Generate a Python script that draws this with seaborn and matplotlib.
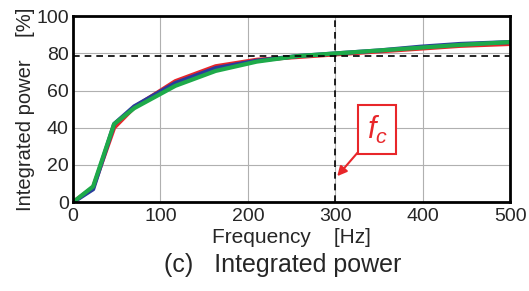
import numpy as np
import pandas as pd
import seaborn as sns
import matplotlib.pyplot as plt
from matplotlib.ticker import MultipleLocator

# Values
freq = [0, 23, 47, 70, 117, 163, 210, 257, 303, 350, 397, 443, 500]
red = [0, 8, 40, 51, 65, 73, 76.5, 78, 79.5, 81, 82.5, 84, 85]
blue = [0, 7, 42, 51.5, 64, 72, 76, 78.5, 80, 81.5, 83.5, 85, 86]
green = [0, 8.5, 42, 50.5, 62.5, 70.5, 75.5, 78.5, 80, 81.5, 83, 84.5, 86]
fc = 300
level = 78.5

df = pd.DataFrame({'Frequency': freq * 3,
                   'Power': red + blue + green,
                   'Series': ['red'] * 13 + ['blue'] * 13 + ['green'] * 13})

sns.set_style('white')
plt.rcParams['font.family'] = ['Liberation Sans', 'DejaVu Sans']
plt.rcParams['mathtext.fontset'] = 'custom'
plt.rcParams['mathtext.it'] = 'Liberation Sans:italic'
plt.rcParams['mathtext.rm'] = 'Liberation Sans'

fig, ax = plt.subplots(figsize=(5.29, 2.91), dpi=100)
fig.subplots_adjust(left=0.138, right=0.965, top=0.945, bottom=0.305)

sns.lineplot(data=df, x='Frequency', y='Power', hue='Series',
             palette={'red': '#e8262a', 'blue': '#2a3c9c', 'green': '#1eaa4a'},
             linewidth=3, legend=False, ax=ax)

ax.axhline(level, color='black', lw=1.2, ls=(0, (4, 3)), zorder=3)
ax.axvline(fc, color='black', lw=1.2, ls=(0, (4, 3)), zorder=3)

ax.set_xlim(0, 500)
ax.set_ylim(0, 100)
ax.xaxis.set_major_locator(MultipleLocator(100))
ax.xaxis.set_minor_locator(MultipleLocator(50))
ax.yaxis.set_major_locator(MultipleLocator(20))
ax.yaxis.set_minor_locator(MultipleLocator(10))
ax.grid(True, which='major', color='#b0b0b0', lw=0.8)
ax.tick_params(which='both', direction='in', labelsize=14, width=1.5)
ax.tick_params(which='major', length=6)
ax.tick_params(axis='x', which='major', pad=4)
ax.tick_params(axis='y', which='major', pad=3)
ax.tick_params(which='minor', length=3.5)
for s in ax.spines.values():
    s.set_linewidth(2)
    s.set_color('black')

ax.set_xlabel('Frequency    [Hz]', fontsize=15, labelpad=2)
ax.set_ylabel('Integrated power    [%]', fontsize=14.5, labelpad=1)

ax.annotate('$f_c$', xy=(302, 14), xytext=(336, 39),
            fontsize=22, color='#e8262a', ha='left', va='center',
            bbox=dict(boxstyle='square,pad=0.28', fc='white', ec='#e8262a', lw=1.5),
            arrowprops=dict(arrowstyle='-|>', color='#e8262a', lw=1.5,
                            shrinkA=0, shrinkB=0, mutation_scale=14))

fig.text(0.534, 0.065, '(c)   Integrated power', ha='center', fontsize=18)

fig.savefig('out.png', dpi=100)
